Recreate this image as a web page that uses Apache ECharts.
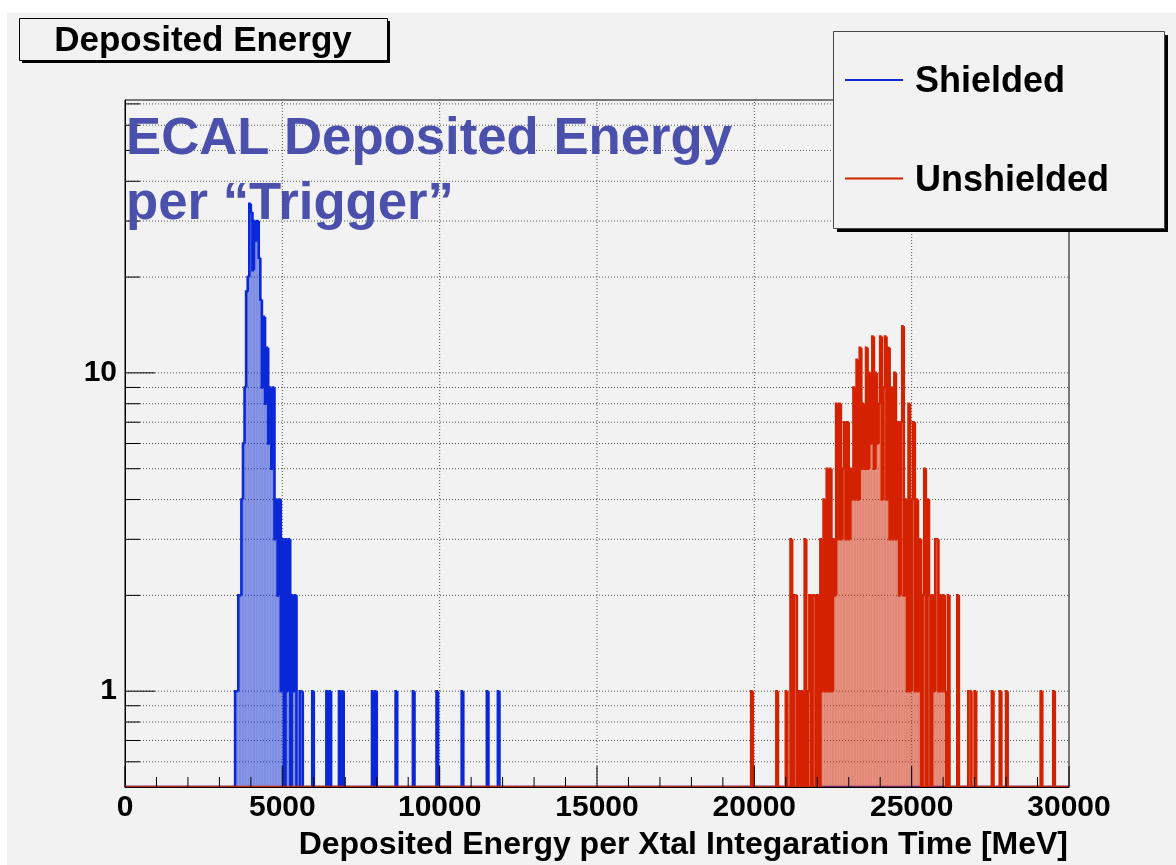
<!DOCTYPE html>
<html>
<head>
<meta charset="utf-8">
<title>Deposited Energy</title>
<script src="https://cdn.jsdelivr.net/npm/echarts@6/dist/echarts.min.js"></script>
<style>
  html, body { margin: 0; padding: 0; background: #ffffff; }
  #chart { width: 1176px; height: 865px; }
</style>
</head>
<body>
<div id="chart"></div>
<script>
// Histogram binning (MeV)
const BIN_WIDTH = 50;
const X_MIN = 0;
const X_MAX = 30000;
const N_BINS = (X_MAX - X_MIN) / BIN_WIDTH;

// Log y range
const Y_MIN = 0.5;
const Y_MAX = 72;

// Axis ticks
const xMajorTicks = [0, 5000, 10000, 15000, 20000, 25000, 30000];
const xMinorStep = 1000;
const yMajorTicks = [1, 10];
const yMinorTicks = [0.6, 0.7, 0.8, 0.9, 2, 3, 4, 5, 6, 7, 8, 9, 20, 30, 40, 50, 60, 70];

// Shielded: counts per 50 MeV bin starting at 3500 MeV
const shieldedStart = 3500;
const shieldedCounts = [1, 1, 2, 2, 4, 6, 9, 18, 20, 34,
                        32, 21, 30, 26, 30, 23, 17, 9, 15, 8,
                        12, 6, 9, 5, 9, 3, 4, 2, 4, 1,
                        3, 0, 3, 1, 3, 0, 2, 1, 2, 0,
                        0, 1, 1];
// Shielded: isolated entries in the high tail (bin start, MeV), one count each
const shieldedTailE = [5950, 6400, 6500, 6800, 6900, 7850, 7950, 8600, 9150, 9900, 10700, 11500, 11850];

// Unshielded: counts per 50 MeV bin starting at 21000 MeV
const unshieldedStart = 21000;
const unshieldedCounts = [1, 0, 0, 3, 0, 2, 2, 0, 1, 0,
                          1, 0, 3, 0, 1, 2, 0, 2, 2, 0,
                          2, 0, 3, 1, 4, 1, 5, 1, 5, 1,
                          3, 2, 8, 3, 8, 3, 5, 7, 3, 7,
                          3, 5, 4, 9, 4, 11, 4, 12, 5, 8,
                          5, 12, 5, 10, 6, 13, 5, 10, 6, 8,
                          13, 4, 9, 13, 4, 12, 3, 9, 3, 10,
                          3, 7, 2, 7, 14, 2, 4, 1, 8, 1,
                          4, 7, 1, 4, 1, 3, 0, 2, 5, 0,
                          4, 2, 0, 2, 1, 3, 3, 1, 2, 1,
                          2, 1, 0, 2];
// Unshielded: isolated entries outside the main peak
const unshieldedTailE = [19900, 20700, 26450, 26800, 26850, 27000, 27550, 27800, 28000, 29100, 29500];
const unshieldedTailN = [1, 1, 2, 1, 1, 1, 1, 1, 1, 1, 1];

const COLOR_SHIELDED = '#0a28d6';
const COLOR_UNSHIELDED = '#d42200';
const FILL_SHIELDED = 'rgba(10,40,214,0.5)';
const FILL_UNSHIELDED = 'rgba(212,34,0,0.52)';
const HIST_LINE_WIDTH = 2.6;
const FONT = '"Liberation Sans", Arial, Helvetica, sans-serif';

function buildBins(start, counts, tailE, tailN) {
  const bins = new Array(N_BINS).fill(0);
  const i0 = Math.round((start - X_MIN) / BIN_WIDTH);
  counts.forEach((c, k) => { bins[i0 + k] += c; });
  tailE.forEach((e, k) => {
    const idx = Math.round((e - X_MIN) / BIN_WIDTH);
    bins[idx] += tailN ? tailN[k] : 1;
  });
  return bins;
}

const shieldedBins = buildBins(shieldedStart, shieldedCounts, shieldedTailE, null);
const unshieldedBins = buildBins(unshieldedStart, unshieldedCounts, unshieldedTailE, unshieldedTailN);

function toData(bins) {
  return bins.map((c, i) => [X_MIN + i * BIN_WIDTH, c]);
}

// Step-outline histogram: fill under each bin, outline drawn as a staircase
function histRenderer(bins, lineColor, fillColor) {
  return function (params, api) {
    const i = params.dataIndex;
    const e0 = api.value(0);
    const n = bins[i];
    const prev = i > 0 ? bins[i - 1] : 0;
    const base = api.coord([e0, Y_MIN]);
    const x0 = base[0];
    const x1 = api.coord([e0 + BIN_WIDTH, Y_MIN])[0];
    const yBase = base[1];
    const yOf = (c) => (c > 0 ? api.coord([e0, c])[1] : yBase);
    const yT = yOf(n);
    const yP = yOf(prev);
    const children = [];
    if (n > 0) {
      children.push({
        type: 'rect',
        shape: { x: x0, y: yT, width: x1 - x0, height: yBase - yT },
        style: { fill: fillColor }
      });
    }
    children.push({
      type: 'polyline',
      shape: { points: [[x0, yP], [x0, yT], [x1, yT]] },
      style: { stroke: lineColor, lineWidth: HIST_LINE_WIDTH, fill: null }
    });
    return { type: 'group', children: children };
  };
}

// Dotted grid lines
function gridRenderer(params, api) {
  const children = [];
  const dash = { stroke: '#555', lineWidth: 1, lineDash: [1, 2] };
  xMajorTicks.slice(1, -1).forEach((v) => {
    const p0 = api.coord([v, Y_MIN]);
    const p1 = api.coord([v, Y_MAX]);
    children.push({ type: 'line', shape: { x1: p0[0], y1: p0[1], x2: p1[0], y2: p1[1] }, style: dash });
  });
  yMajorTicks.concat(yMinorTicks).forEach((v) => {
    const p0 = api.coord([X_MIN, v]);
    const p1 = api.coord([X_MAX, v]);
    children.push({ type: 'line', shape: { x1: p0[0], y1: p0[1], x2: p1[0], y2: p1[1] }, style: dash });
  });
  return { type: 'group', children: children };
}

// Tick marks pointing into the frame
function tickRenderer(params, api) {
  const children = [];
  const st = { stroke: '#000', lineWidth: 1 };
  for (let v = X_MIN; v <= X_MAX; v += xMinorStep) {
    const p = api.coord([v, Y_MIN]);
    const len = xMajorTicks.indexOf(v) >= 0 ? 21 : 10;
    children.push({ type: 'line', shape: { x1: p[0], y1: p[1], x2: p[0], y2: p[1] - len }, style: st });
  }
  yMajorTicks.forEach((v) => {
    const p = api.coord([X_MIN, v]);
    children.push({ type: 'line', shape: { x1: p[0], y1: p[1], x2: p[0] + 30, y2: p[1] }, style: st });
  });
  yMinorTicks.forEach((v) => {
    const p = api.coord([X_MIN, v]);
    children.push({ type: 'line', shape: { x1: p[0], y1: p[1], x2: p[0] + 15, y2: p[1] }, style: st });
  });
  return { type: 'group', children: children };
}

const chart = echarts.init(document.getElementById('chart'), null, { renderer: 'canvas' });

const option = {
  animation: false,
  backgroundColor: '#f2f2f2',
  grid: {
    left: 125, right: 107, top: 100, bottom: 78,
    show: true, borderColor: '#000', borderWidth: 1, backgroundColor: 'transparent',
    containLabel: false, outerBoundsMode: 'none'
  },
  xAxis: {
    type: 'value', min: X_MIN, max: X_MAX, interval: 5000,
    axisLine: { show: true, onZero: false, lineStyle: { color: '#000', width: 1 } },
    axisTick: { show: false },
    splitLine: { show: false },
    axisLabel: {
      color: '#000', fontSize: 30, fontWeight: 'bold', fontFamily: FONT, margin: 6,
      showMinLabel: true, showMaxLabel: true,
      formatter: function (v) { return String(v); }
    }
  },
  yAxis: {
    type: 'log', logBase: 10, min: Y_MIN, max: Y_MAX,
    axisLine: { show: true, lineStyle: { color: '#000', width: 1 } },
    axisTick: { show: false },
    splitLine: { show: false },
    minorTick: { show: false },
    axisLabel: {
      color: '#000', fontSize: 30, fontWeight: 'bold', fontFamily: FONT, margin: 8,
      formatter: function (v) {
        for (const t of yMajorTicks) {
          if (Math.abs(v - t) < 1e-6 * t) return String(t);
        }
        return '';
      }
    }
  },
  series: [
    {
      type: 'custom', name: 'grid', silent: true, z: 1,
      renderItem: gridRenderer, data: [[X_MIN, Y_MIN]], clip: true
    },
    {
      type: 'custom', name: 'Shielded', z: 2, clip: true,
      renderItem: histRenderer(shieldedBins, COLOR_SHIELDED, FILL_SHIELDED),
      data: toData(shieldedBins)
    },
    {
      type: 'custom', name: 'Unshielded', z: 3, clip: true,
      renderItem: histRenderer(unshieldedBins, COLOR_UNSHIELDED, FILL_UNSHIELDED),
      data: toData(unshieldedBins)
    },
    {
      type: 'custom', name: 'ticks', silent: true, z: 4,
      renderItem: tickRenderer, data: [[X_MIN, Y_MIN]], clip: false
    }
  ],
  graphic: [
    // white page margin
    { type: 'rect', left: 0, top: 0, shape: { width: 1176, height: 13 }, style: { fill: '#ffffff' }, z: 0, silent: true },
    { type: 'rect', left: 0, top: 0, shape: { width: 7, height: 865 }, style: { fill: '#ffffff' }, z: 0, silent: true },
    // title box
    { type: 'rect', shape: { x: 22, y: 21, width: 368, height: 42 }, style: { fill: '#000' }, z: 10, silent: true },
    { type: 'rect', shape: { x: 19.5, y: 18.5, width: 368, height: 42 }, style: { fill: '#f2f2f2', stroke: '#000', lineWidth: 1 }, z: 11, silent: true },
    { type: 'text', x: 203, y: 41, z: 12, silent: true,
      style: { text: 'Deposited Energy', font: 'bold 35px ' + FONT, fill: '#000', align: 'center', verticalAlign: 'middle' } },
    // annotation
    { type: 'text', x: 126, y: 139, z: 12, silent: true,
      style: { text: 'ECAL Deposited Energy', font: 'bold 52.7px ' + FONT, fill: '#4b50ad', align: 'left', verticalAlign: 'middle' } },
    { type: 'text', x: 126, y: 204, z: 12, silent: true,
      style: { text: 'per \u201cTrigger\u201d', font: 'bold 52.7px ' + FONT, fill: '#4b50ad', align: 'left', verticalAlign: 'middle' } },
    // legend box
    { type: 'rect', shape: { x: 837, y: 35, width: 331, height: 197 }, style: { fill: '#000' }, z: 10, silent: true },
    { type: 'rect', shape: { x: 833.5, y: 31.5, width: 331, height: 197 }, style: { fill: '#f2f2f2', stroke: '#444', lineWidth: 1 }, z: 11, silent: true },
    { type: 'line', shape: { x1: 845, y1: 80, x2: 903, y2: 80 }, style: { stroke: COLOR_SHIELDED, lineWidth: 1.8 }, z: 12, silent: true },
    { type: 'text', x: 915, y: 82, z: 12, silent: true,
      style: { text: 'Shielded', font: 'bold 36px ' + FONT, fill: '#000', align: 'left', verticalAlign: 'middle' } },
    { type: 'line', shape: { x1: 845, y1: 178.5, x2: 903, y2: 178.5 }, style: { stroke: COLOR_UNSHIELDED, lineWidth: 1.8 }, z: 12, silent: true },
    { type: 'text', x: 915, y: 181, z: 12, silent: true,
      style: { text: 'Unshielded', font: 'bold 36px ' + FONT, fill: '#000', align: 'left', verticalAlign: 'middle' } },
    // x-axis title
    { type: 'text', x: 1068, y: 845, z: 12, silent: true,
      style: { text: 'Deposited Energy per Xtal Integaration Time [MeV]', font: 'bold 32px ' + FONT, fill: '#000', align: 'right', verticalAlign: 'middle' } }
  ]
};

chart.setOption(option);
</script>
</body>
</html>
